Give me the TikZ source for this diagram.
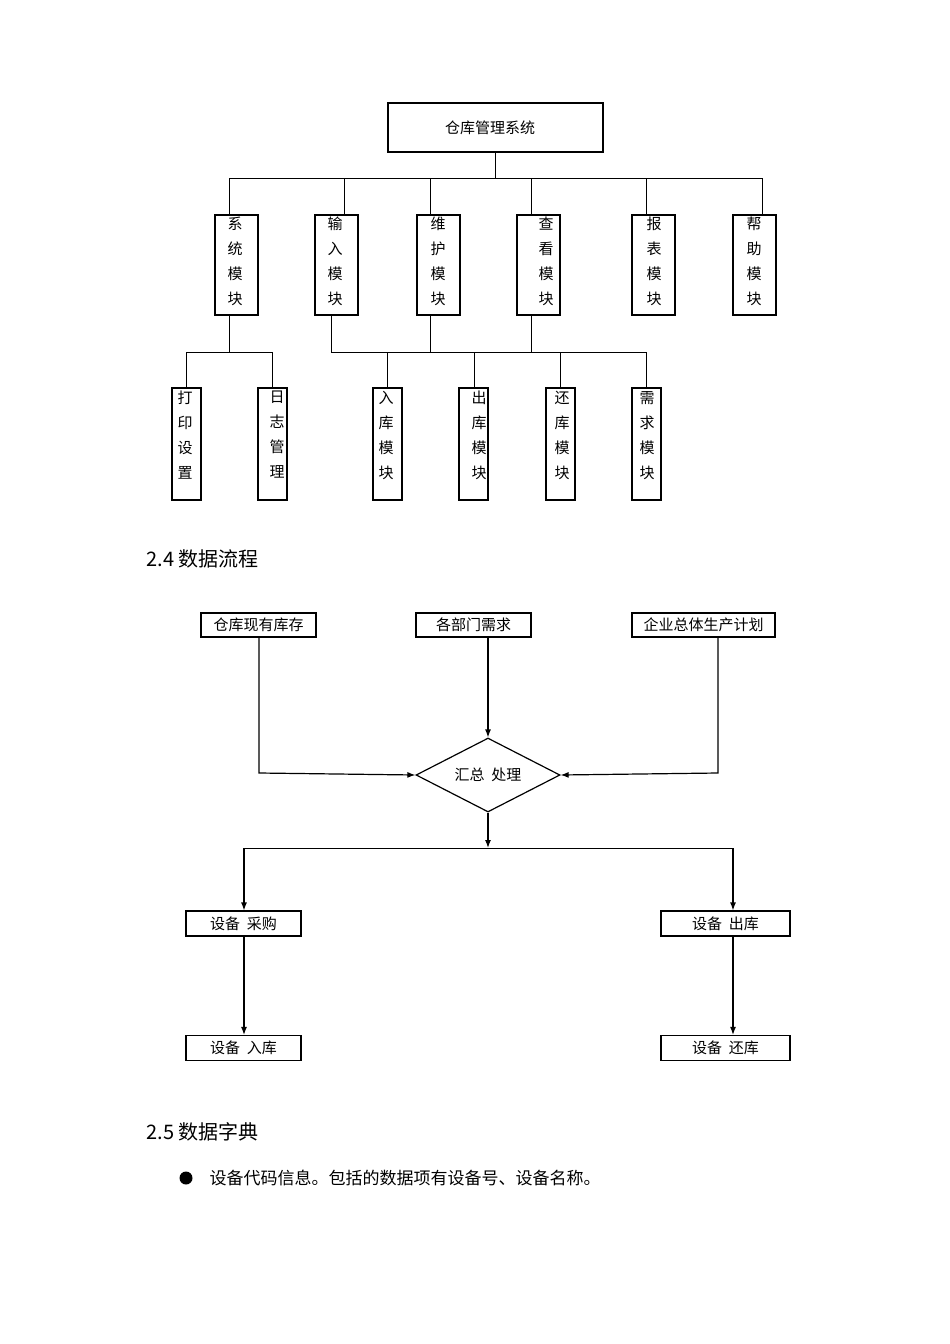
\documentclass[tikz,border=0pt]{standalone}
\usepackage{fontspec}
\setmainfont{Noto Sans CJK SC}
\usetikzlibrary{arrows.meta,shapes.geometric}
\begin{document}
\begin{tikzpicture}[x=1pt,y=-1pt,
  bx/.style={draw,line width=1.2pt},
  ln/.style={line width=1pt},
  ar/.style={line width=1.2pt,-{Latex[length=8pt,width=6pt]}},
  t/.style={font=\fontsize{15}{15}\selectfont,inner sep=0pt},
  vt/.style={font=\fontsize{15}{25}\selectfont,inner sep=0pt,align=center,anchor=north}]
\useasboundingbox[fill=white] (0,0) rectangle (950,1344);
% top tree
\draw[bx] (388,103) rectangle (603,152);
\node[t] (root) at (490,128) {仓库管理系统};
\coordinate (rb) at (495,152);
\coordinate (rbus) at (495,178);
\draw[ln] (rb) -- (rbus);
\draw[ln] (229,178) -- (762,178);
\foreach \l/\c/\tx/\txt in {215/229/235/{系\\统\\模\\块},315/344/335/{输\\入\\模\\块},417/430/438/{维\\护\\模\\块},517/531/546/{查\\看\\模\\块},632/646/654/{报\\表\\模\\块},733/762/754/{帮\\助\\模\\块}}{
  \draw[bx] (\l,215) rectangle ++(43,100);
  \draw[ln] (\c,178) -- (\c,215);
  \node[vt] at (\tx,217) {\txt};
}
\draw[ln] (229,315) -- (229,352);
\draw[ln] (186,352) -- (272,352);
\draw[ln] (331,315) -- (331,352) -- (646,352);
\draw[ln] (430,315) -- (430,352);
\draw[ln] (531,315) -- (531,352);
\foreach \l/\c/\tx/\txt in {172/186/185/{打\\印\\设\\置},258/272/277/{日\\志\\管\\理},373/387/386/{入\\库\\模\\块},459/474/479/{出\\库\\模\\块},546/560/562/{还\\库\\模\\块},632/646/647/{需\\求\\模\\块}}{
  \draw[bx] (\l,388) rectangle ++(29,112);
  \draw[ln] (\c,352) -- (\c,388);
  \node[vt] at (\tx,391) {\txt};
}
% headings
\node[anchor=west,font=\fontsize{20}{20}\selectfont] at (143,559) {2.4 数据流程};
\node[anchor=west,font=\fontsize{20}{20}\selectfont] at (143,1132) {2.5 数据字典};
\fill (186,1178) circle (6.5);
\node[anchor=west,font=\fontsize{17}{17}\selectfont] at (206,1178) {设备代码信息。包括的数据项有设备号、设备名称。};
% flow
\node[bx,t,minimum width=115,minimum height=24] (a) at (258.5,625) {仓库现有库存};
\node[bx,t,minimum width=115,minimum height=24] (b) at (473.5,625) {各部门需求};
\node[bx,t,minimum width=143,minimum height=24] (c) at (703.5,625) {企业总体生产计划};
\node[draw,line width=1.2pt,diamond,aspect=2,minimum width=144,minimum height=74,inner sep=0pt,t] (d) at (488,775) {汇总\ \ 处理};
\draw[ar] (a.south -| 259,0) -- (259,773) -- (d.west);
\draw[ar] (b.south -| 488,0) -- (d.north);
\draw[ar] (c.south -| 718,0) -- (718,773) -- (d.east);
\coordinate (sp) at (488,848);
\draw[ar] (d.south) -- (sp);
\node[bx,t,minimum width=115,minimum height=25] (e) at (243.5,923.5) {设备\ \ 采购};
\node[bx,t,minimum width=129,minimum height=25] (f) at (725.5,923.5) {设备\ \ 出库};
\node[bx,t,minimum width=115,minimum height=25] (g) at (243.5,1048) {设备\ \ 入库};
\node[bx,t,minimum width=129,minimum height=25] (h) at (725.5,1048) {设备\ \ 还库};
\draw[ln] (244,848) -- (733,848);
\draw[ar] (244,848) -- (e.north -| 244,0);
\draw[ar] (733,848) -- (f.north -| 733,0);
\draw[ar] (e.south -| 244,0) -- (g.north -| 244,0);
\draw[ar] (f.south -| 733,0) -- (h.north -| 733,0);
\end{tikzpicture}
\end{document}
